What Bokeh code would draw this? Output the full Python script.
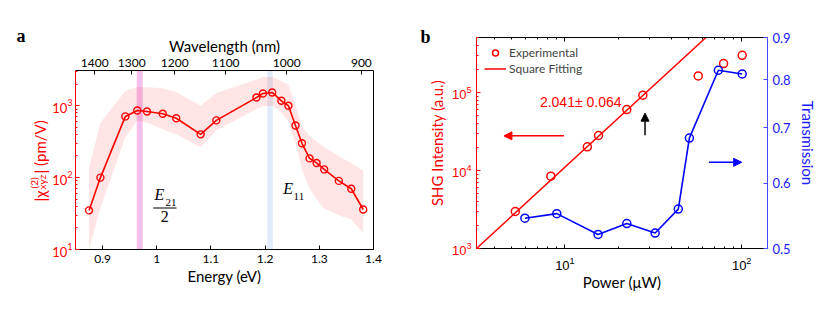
import numpy as np
from bokeh.plotting import figure
from bokeh.models import (Range1d, LogAxis, LinearAxis, FixedTicker, CustomJSTickFormatter,
                          LogTickFormatter, Label, BoxAnnotation, Arrow, NormalHead, Legend, LegendItem)
from bokeh.embed import file_html
from bokeh.resources import INLINE

# ---------------- Panel a data ----------------
energy = [0.875, 0.896, 0.942, 0.964, 0.982, 1.011, 1.036, 1.081, 1.110, 1.184, 1.196,
          1.213, 1.230, 1.243, 1.256, 1.268, 1.282, 1.295, 1.309, 1.336, 1.359, 1.381]
chi2 = [35, 100, 710, 860, 830, 775, 670, 400, 625, 1300, 1480,
        1530, 1170, 1000, 530, 300, 185, 160, 130, 90, 70, 36]
chi2_upper = [135, 580, 1600, 1800, 1800, 1750, 1550, 1000, 1500, 2300, 2500,
              2500, 2200, 1950, 1000, 520, 380, 320, 265, 200, 160, 126]
chi2_lower = [10, 38, 365, 620, 580, 470, 400, 265, 455, 900, 980,
              1000, 800, 600, 300, 130, 70, 50, 37, 30, 26, 17]
wavelength_ticks = [1400, 1300, 1200, 1100, 1000, 900]
energy_ticks = [0.9, 1.0, 1.1, 1.2, 1.3, 1.4]
e21_half_band = (0.963, 0.974)
e11_band = (1.204, 1.214)

# ---------------- Panel b data ----------------
power_exp = [5.24, 8.33, 13.4, 15.5, 22.4, 27.6, 56.8, 79.0, 100.7]
shg = [2980, 8450, 20100, 28100, 60500, 92200, 163000, 235000, 300000]
fit_power = [3.16, 62.8]
fit_shg = [1000, 507000]
power_trans = [5.94, 9.0, 15.4, 22.4, 32.4, 43.8, 50.6, 73.8, 100.7]
transmission = [0.544, 0.551, 0.520, 0.536, 0.522, 0.558, 0.680, 0.8215, 0.813]
slope_text = "2.041\u00b1 0.064"

RED = "#ff0000"
BLUE = "#0000ff"
BLUE_AX = "#4646ff"
FONT = "Lato"

def style_axis(ax, color="black", label_color=None, size="12px", font=FONT):
    ax.axis_line_color = color
    ax.major_tick_line_color = color
    ax.minor_tick_line_color = color
    ax.major_label_text_color = label_color or color
    ax.axis_label_text_color = label_color or color
    ax.major_tick_in = 4
    ax.major_tick_out = 0
    ax.minor_tick_in = 2
    ax.minor_tick_out = 0
    ax.major_label_text_font = font
    ax.major_label_text_font_size = size
    ax.axis_label_text_font = FONT
    ax.axis_label_text_font_size = "15px"
    ax.axis_label_text_font_style = "normal"

# ================= Panel a =================
pa = figure(width=410, height=330, x_range=Range1d(0.85, 1.4), y_range=Range1d(10, 3090),
            y_axis_type="log", output_backend="svg", toolbar_location=None,
            min_border_left=75, min_border_right=37, min_border_top=70, min_border_bottom=81)
pa.outline_line_color = None
pa.grid.visible = False
pa.styles = {"position": "absolute", "left": "0px", "top": "0px"}

xa = pa.xaxis[0]
xa.ticker = FixedTicker(ticks=energy_ticks)
xa.formatter = CustomJSTickFormatter(code="return String(Math.round(tick*10)/10)")
xa.axis_label = "Energy (eV)"
style_axis(xa)
xa.major_label_standoff = 5
xa.axis_label_standoff = 1

ya = pa.yaxis[0]
ya.ticker = FixedTicker(ticks=[10, 100, 1000],
                        minor_ticks=[k * 10 ** e for e in (1, 2) for k in range(2, 10)] + [2000, 3000])
ya.formatter = LogTickFormatter()
style_axis(ya, color=RED, size="13px")
ya.major_label_standoff = 3

top = LinearAxis(ticker=FixedTicker(ticks=[1239.84 / w for w in wavelength_ticks]),
                 formatter=CustomJSTickFormatter(code="return (1239.84/tick).toFixed(0)"),
                 axis_label="Wavelength (nm)")
style_axis(top)
top.major_label_standoff = 4
top.axis_label_standoff = 1
pa.add_layout(top, "above")

right_a = LogAxis(ticker=FixedTicker(ticks=[100]))
right_a.axis_line_color = "black"
right_a.major_tick_line_color = None
right_a.minor_tick_line_color = None
right_a.major_label_text_color = None
pa.add_layout(right_a, "right")

pa.add_layout(BoxAnnotation(left=e21_half_band[0], right=e21_half_band[1], fill_color="#f3c0ee",
                            fill_alpha=1.0, line_color=None, level="underlay"))
pa.add_layout(BoxAnnotation(left=e11_band[0], right=e11_band[1], fill_color="#e2ebf8",
                            fill_alpha=1.0, line_color=None, level="underlay"))

pa.varea(x=energy, y1=chi2_lower, y2=chi2_upper, fill_color=RED, fill_alpha=0.1)
pa.line(energy, chi2, line_color=RED, line_width=1.6)
pa.scatter(energy, chi2, marker="circle", size=7, fill_color=None, line_color=RED, line_width=1.4)

serif = "Liberation Serif"
pa.add_layout(Label(x=0.996, y=44, text="E", text_font=serif, text_font_style="italic",
                    text_font_size="16px", text_color="black"))
pa.add_layout(Label(x=1.016, y=40.5, text="21", text_font=serif, text_font_size="11px",
                    text_color="black"))
pa.add_layout(BoxAnnotation(left=0.9934, right=1.0364, bottom=37.3, top=38.5,
                            fill_color="black", fill_alpha=1.0, line_color=None))
pa.add_layout(Label(x=1.0145, y=24, text="2", text_font=serif, text_font_size="16px",
                    text_align="center", text_color="black"))
pa.add_layout(Label(x=1.2333, y=54, text="E", text_font=serif, text_font_style="italic",
                    text_font_size="16px", text_color="black"))
pa.add_layout(Label(x=1.2525, y=49.5, text="11", text_font=serif, text_font_size="11px",
                    text_color="black"))

# ================= Panel b =================
pb = figure(width=412, height=330, x_range=Range1d(10 ** 0.5, 140), y_range=Range1d(1000, 507000),
            x_axis_type="log", y_axis_type="log", output_backend="svg", toolbar_location=None,
            min_border_left=66, min_border_right=55, min_border_top=37, min_border_bottom=82)
pb.outline_line_color = None
pb.grid.visible = False
pb.extra_y_ranges = {"trans": Range1d(0.5, 0.9)}
pb.styles = {"position": "absolute", "left": "410px", "top": "0px"}

xb = pb.xaxis[0]
xb.ticker = FixedTicker(ticks=[10, 100],
                        minor_ticks=[k * 10 ** e for e in (0, 1) for k in range(2, 10)])
xb.formatter = LogTickFormatter()
xb.axis_label = "Power (\u03bcW)"
style_axis(xb, size="13px", font="Liberation Sans")
xb.major_label_standoff = 8
xb.axis_label_standoff = 0

yb = pb.yaxis[0]
yb.ticker = FixedTicker(ticks=[1000, 10000, 100000],
                        minor_ticks=[k * 10 ** e for e in (3, 4, 5) for k in range(2, 10)])
yb.formatter = LogTickFormatter()
yb.axis_label = "SHG Intensity (a.u.)"
style_axis(yb, color=RED, size="13px", font="Liberation Sans")
yb.major_label_standoff = 5
yb.axis_label_standoff = 3

topb = LogAxis(ticker=FixedTicker(ticks=[10, 100],
                                  minor_ticks=[k * 10 ** e for e in (0, 1) for k in range(2, 10)]))
style_axis(topb)
topb.major_label_text_color = None
pb.add_layout(topb, "above")

rb = LinearAxis(y_range_name="trans", ticker=FixedTicker(ticks=[0.5, 0.6, 0.7, 0.8, 0.9]),
                formatter=CustomJSTickFormatter(code="return (Math.round(tick*10)/10).toFixed(1)"),
                axis_label="Transmission")
style_axis(rb, color=BLUE_AX, label_color="#2020ff", size="13px")
rb.major_label_standoff = 5
rb.axis_label_standoff = 5
pb.add_layout(rb, "right")

fit_r = pb.line(fit_power, fit_shg, line_color=RED, line_width=1.5)
exp_r = pb.scatter(power_exp, shg, marker="circle", size=8, fill_color=None,
                   line_color=RED, line_width=1.5)
pb.line(power_trans, transmission, y_range_name="trans", line_color=BLUE, line_width=1.6)
pb.scatter(power_trans, transmission, y_range_name="trans", marker="circle", size=8,
           fill_color=None, line_color=BLUE, line_width=1.5)

legend = Legend(items=[LegendItem(label="Experimental", renderers=[exp_r]),
                       LegendItem(label="Square Fitting", renderers=[fit_r])],
                location="top_left", border_line_color=None, background_fill_alpha=0,
                margin=8, padding=8, spacing=1, label_height=15, glyph_height=15, glyph_width=22,
                label_standoff=3, label_text_font=FONT, label_text_font_size="12px")
pb.add_layout(legend)

pb.add_layout(Label(x=7.22, y=75700, text=slope_text, text_font="Liberation Sans",
                    text_font_size="14px", text_color=RED, text_baseline="middle"))

pb.add_layout(Arrow(end=NormalHead(size=8, fill_color=RED, line_color=RED),
                    x_start=9.87, y_start=27800, x_end=4.52, y_end=27800,
                    line_color=RED, line_width=1.5))
pb.add_layout(Arrow(end=NormalHead(size=8, fill_color="black", line_color="black"),
                    x_start=28.4, y_start=28400, x_end=28.4, y_end=54300,
                    line_color="black", line_width=1.5))
pb.add_layout(Arrow(end=NormalHead(size=8, fill_color=BLUE, line_color=BLUE),
                    x_start=65.3, y_start=0.6357, x_end=100, y_end=0.6357, y_range_name="trans",
                    line_color=BLUE, line_width=1.5))

# ================= Overlay for texts outside the frames (page pixel coordinates) =================
ov = figure(width=822, height=330, x_range=Range1d(0, 822), y_range=Range1d(330, 0),
            x_axis_location=None, y_axis_location=None, output_backend="svg",
            toolbar_location=None, min_border=0)
ov.outline_line_color = None
ov.grid.visible = False
ov.background_fill_color = None
ov.border_fill_color = None
ov.styles = {"position": "absolute", "left": "0px", "top": "0px", "pointer-events": "none"}

lab_kw = dict(angle=np.pi / 2, text_color=RED, text_font=FONT, text_baseline="alphabetic",
              text_align="left")
ov.add_layout(Label(x=39.5, y=201, text="|\u03c7", text_font_size="15px", **lab_kw))
ov.add_layout(Label(x=33.5, y=188, text="(2)", text_font_size="10px", **lab_kw))
ov.add_layout(Label(x=41, y=189, text="xyz", text_font_size="10px", **lab_kw))
ov.add_layout(Label(x=39.5, y=173, text="| (pm/V)", text_font_size="15px", **lab_kw))

ov.add_layout(Label(x=16, y=35, text="a", text_font="Liberation Serif", text_font_style="bold",
                    text_font_size="18px", text_color="black", text_baseline="alphabetic"))
ov.add_layout(Label(x=420, y=36.5, text="b", text_font="Liberation Serif", text_font_style="bold",
                    text_font_size="18px", text_color="black", text_baseline="alphabetic"))

open("out.html", "w").write(file_html([pa, pb, ov], INLINE))
